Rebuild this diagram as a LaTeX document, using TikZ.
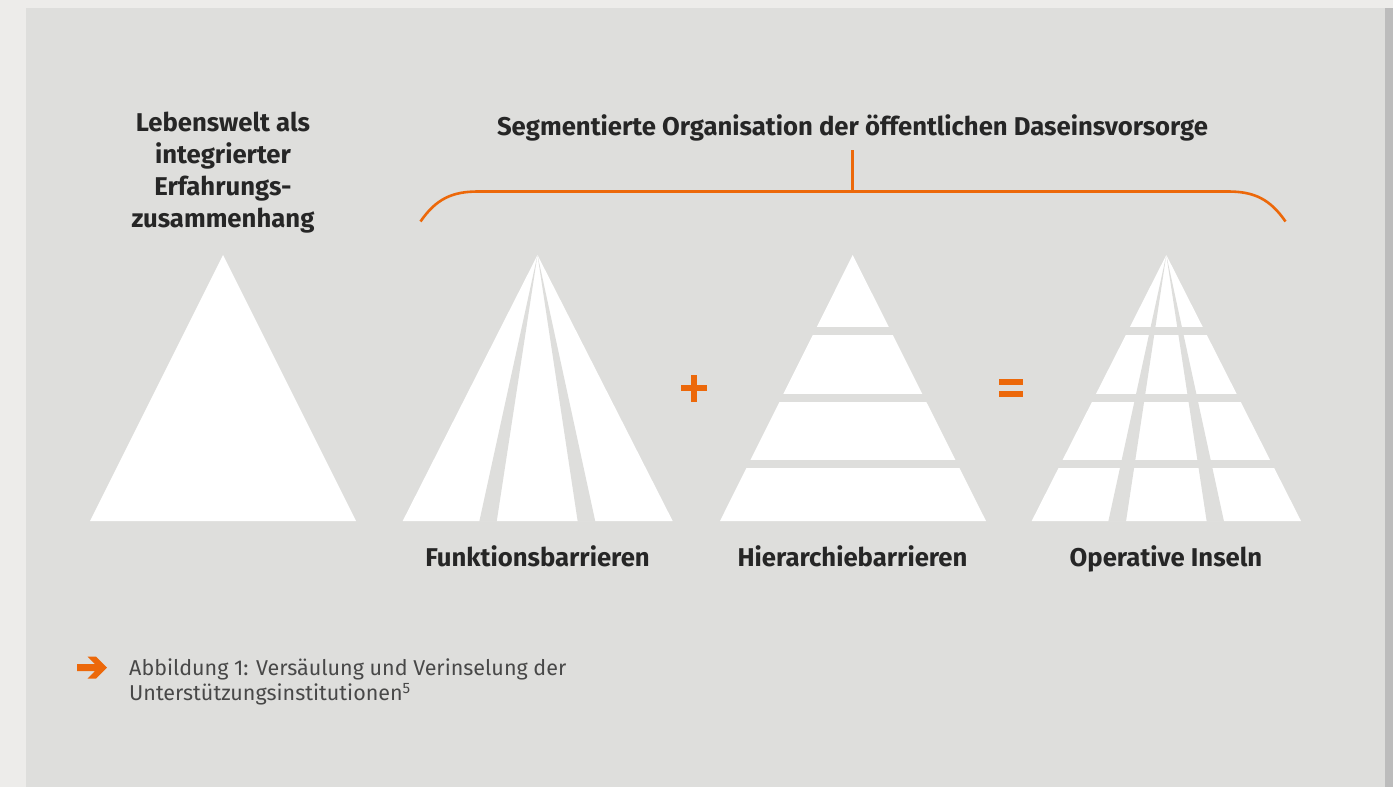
\documentclass[tikz,border=0pt]{standalone}
\usepackage{fontspec}
\setmainfont{Fira Sans}
\definecolor{outerbg}{RGB}{237,236,234}
\definecolor{panel}{RGB}{222,222,220}
\definecolor{shadowc}{RGB}{188,188,188}
\definecolor{orng}{RGB}{236,104,10}
\definecolor{txt}{RGB}{38,38,38}
\definecolor{captxt}{RGB}{72,72,72}
\tikzset{
  heading/.style={font=\fontsize{25.7}{32}\selectfont\bfseries, text=txt, align=center, inner sep=0pt},
  label/.style={font=\fontsize{25.7}{30}\selectfont\bfseries, text=txt, inner sep=0pt, anchor=base},
  caption/.style={font=\fontsize{21.5}{24.7}\selectfont, text=captxt, align=left, inner sep=0pt},
  opline/.style={draw=orng, line width=5.8pt},
  pyr/.style={fill=white},
  gap/.style={fill=panel},
  bracec/.style={draw=orng, line width=2.6pt}
}
\begin{document}
\begin{tikzpicture}[x=1pt,y=-1pt]
\useasboundingbox (0,0) rectangle (1393,787);
% background
\fill[outerbg] (0,0) rectangle (1393,787);
\fill[panel] (26,8) rectangle (1385,787);
\fill[shadowc] (1385,8) rectangle (1393,787);

% headings
\node[heading] (lw) at (223,173) {Lebenswelt als\\integrierter\\Erfahrungs-\\zusammenhang};
\node[heading] (seg) at (852.5,127.5) {Segmentierte Organisation der öffentlichen Daseinsvorsorge};

% brace
\coordinate (bl) at (420.5,221.5);
\coordinate (br) at (1285.5,221.5);
\coordinate (bt) at (852.5,150);
\coordinate (bm) at (852.5,191.5);
\draw[bracec] (bl) .. controls (436,199) and (452,191.5) .. (478,191.5) -- (1228,191.5) .. controls (1254,191.5) and (1270,199) .. (br);
\draw[bracec] (bt) -- (bm);

% pyramid 1: plain
\fill[pyr] (223,255) -- (356,521) -- (90,521) -- cycle;

% pyramid 2: Funktionsbarrieren
\fill[pyr] (537.5,255) -- (672.7,521) -- (402.7,521) -- cycle;
\fill[gap] (537.5,255) -- (479.3,521.5) -- (496.7,521.5) -- cycle;
\fill[gap] (537.5,255) -- (577.7,521.5) -- (595.3,521.5) -- cycle;

% pyramid 3: Hierarchiebarrieren
\fill[pyr] (852.7,255) -- (986,521) -- (720,521) -- cycle;
\fill[gap] (710,327.3) rectangle (1000,335.3);
\fill[gap] (710,393.7) rectangle (1000,401.7);
\fill[gap] (710,460) rectangle (1000,468);

% pyramid 4: Operative Inseln
\fill[pyr] (1166.3,255) -- (1301,521) -- (1031.7,521) -- cycle;
\fill[gap] (1166.3,255) -- (1108.3,521.5) -- (1126,521.5) -- cycle;
\fill[gap] (1166.3,255) -- (1206.7,521.5) -- (1224,521.5) -- cycle;
\fill[gap] (1020,327.3) rectangle (1312,335.3);
\fill[gap] (1020,393.7) rectangle (1312,401.7);
\fill[gap] (1020,460) rectangle (1312,468);

% operators
\coordinate (plusc) at (694,388);
\draw[opline] ([xshift=-13pt]plusc) -- ([xshift=13pt]plusc);
\draw[opline] ([yshift=-13.5pt]plusc) -- ([yshift=13.5pt]plusc);
\coordinate (eqc) at (1011,388);
\draw[opline] ([xshift=-12pt,yshift=-5.8pt]eqc) -- ([xshift=12pt,yshift=-5.8pt]eqc);
\draw[opline] ([xshift=-12pt,yshift=5.8pt]eqc) -- ([xshift=12pt,yshift=5.8pt]eqc);

% labels
\node[label] (fb) at (537.5,566) {Funktionsbarrieren};
\node[label] (hb) at (852.5,566) {Hierarchiebarrieren};
\node[label] (oi) at (1166,566) {Operative Inseln};

% caption arrow
\fill[orng] (77,664) -- (95,664) -- (87.5,656.5) -- (96,656.5) -- (107,667.5) -- (96,678.5) -- (87.5,678.5) -- (95,671) -- (77,671) -- cycle;
\node[caption, anchor=north west] (cap) at (129,659) {Abbildung 1: Versäulung und Verinselung der\\Unterstützungsinstitutionen\textsuperscript{5}};
\end{tikzpicture}
\end{document}
